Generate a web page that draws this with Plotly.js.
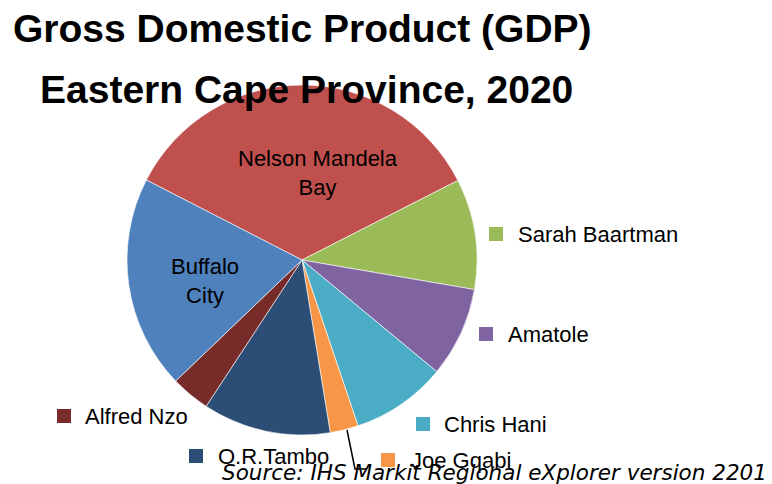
<!DOCTYPE html>
<html><head><meta charset="utf-8">
<script src="https://cdn.plot.ly/plotly-3.0.1.min.js"></script>
<style>html,body{margin:0;padding:0;background:#fff;}#chart{width:772px;height:484px;}</style>
</head><body><div id="chart"></div>
<script>
const regions = ["Nelson Mandela Bay","Sarah Baartman","Amatole","Chris Hani","Joe Gqabi","O.R.Tambo","Alfred Nzo","Buffalo City"];
const gdpShare = [34.9, 10.2, 8.3, 8.8, 2.6, 11.8, 3.6, 19.7];
const colors = ["#C0504D","#9BBB59","#8064A2","#4BACC6","#F79646","#2C4D75","#772C2A","#4F81BD"];
const titleLines = ["Gross Domestic Product (GDP)","Eastern Cape Province, 2020"];
const sourceText = "Source: IHS Markit Regional eXplorer version 2201";

const W = 772, H = 484;
const px = x => x / W, py = y => 1 - y / H;
const labelFont = {family: "Liberation Sans Narrow, Arial Narrow, Liberation Sans, Arial, sans-serif", size: 22, color: "#000"};

// outside labels: [index, squareLeft, centerY, textLeft]
const outside = [
  [1, 489, 234, 516],
  [2, 479, 334, 506],
  [3, 416, 424, 442],
  [4, 381, 460, 409],
  [5, 189, 456, 216],
  [6, 57, 416, 83]
];
const annotations = [];
const shapes = [];
outside.forEach(([i, sx, cy, tx]) => {
  shapes.push({type: "rect", xref: "paper", yref: "paper", x0: px(sx), x1: px(sx + 14), y0: py(cy + 7), y1: py(cy - 7), fillcolor: colors[i], line: {width: 0}});
  annotations.push({xref: "paper", yref: "paper", x: px(tx), y: py(cy), xanchor: "left", yanchor: "middle", text: regions[i], showarrow: false, font: labelFont});
});
// inside labels
annotations.push({xref: "paper", yref: "paper", x: px(318), y: py(173), xanchor: "center", yanchor: "middle", text: "Nelson Mandela<br>Bay", showarrow: false, font: labelFont});
annotations.push({xref: "paper", yref: "paper", x: px(205), y: py(281), xanchor: "center", yanchor: "middle", text: "Buffalo<br>City", showarrow: false, font: labelFont});
// leader line for Joe Gqabi
shapes.push({type: "path", xref: "paper", yref: "paper", path: `M ${px(347)} ${py(430)} L ${px(355)} ${py(469)} L ${px(366)} ${py(469)}`, line: {color: "#000", width: 1.5}});
// title lines
const titleFont = {family: "Liberation Sans Narrow, Arial Narrow, Liberation Sans, Arial, sans-serif", size: 39, color: "#000", weight: 700};
annotations.push({xref: "paper", yref: "paper", x: px(302), y: py(29), xanchor: "center", yanchor: "middle", text: "<b>" + titleLines[0] + "</b>", showarrow: false, font: titleFont});
annotations.push({xref: "paper", yref: "paper", x: px(306), y: py(90), xanchor: "center", yanchor: "middle", text: "<b>" + titleLines[1] + "</b>", showarrow: false, font: titleFont});
// source
annotations.push({xref: "paper", yref: "paper", x: px(769), y: py(472), xanchor: "right", yanchor: "middle", text: "<i>" + sourceText + "</i>", showarrow: false, font: {family: "DejaVu Sans, Verdana, sans-serif", size: 21.5, color: "#000"}});

const data = [{
  type: "pie",
  labels: regions,
  values: gdpShare,
  sort: false,
  direction: "clockwise",
  rotation: 297.2,
  textinfo: "none",
  hoverinfo: "label+percent",
  marker: {colors: colors, line: {color: "#ffffff", width: 0.6}},
  domain: {x: [127 / W, 477 / W], y: [49 / H, 399 / H]},
  showlegend: false
}];
const layout = {
  width: W, height: H,
  margin: {l: 0, r: 0, t: 0, b: 0},
  paper_bgcolor: "#fff",
  showlegend: false,
  annotations: annotations,
  shapes: shapes
};
Plotly.newPlot("chart", data, layout, {displayModeBar: false, staticPlot: true});
</script>
</body></html>
